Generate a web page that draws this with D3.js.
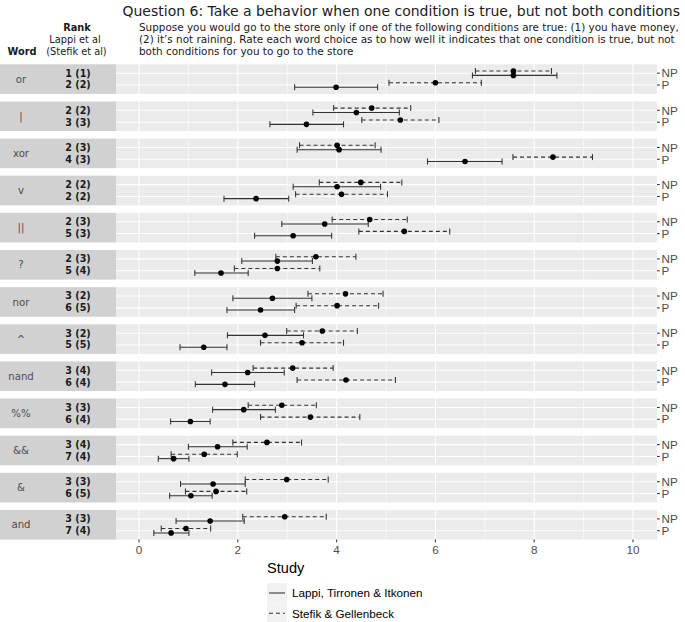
<!DOCTYPE html>
<html><head><meta charset="utf-8">
<script src="https://cdn.jsdelivr.net/npm/d3@7"></script>
<style>body{margin:0;background:#fff}</style>
</head><body><svg id="c" width="685" height="622"></svg>
<script>
// ---- data ----
const titleText = "Question 6: Take a behavior when one condition is true, but not both conditions";
const questionLines = [
  "Suppose you would go to the store only if one of the following conditions are true: (1) you have money,",
  "(2) it\u2019s not raining. Rate each word choice as to how well it indicates that one condition is true, but not",
  "both conditions for you to go to the store"
];
const words = ["or","|","xor","v","||","?","nor","^","nand","%%","&&","&","and"];
const rankNP = ["1 (1)","2 (2)","2 (3)","2 (2)","2 (3)","2 (3)","3 (2)","3 (2)","3 (4)","3 (3)","3 (4)","3 (3)","3 (3)"];
const rankP  = ["2 (2)","3 (3)","4 (3)","2 (2)","5 (3)","5 (4)","6 (5)","5 (5)","6 (4)","6 (4)","7 (4)","6 (5)","7 (4)"];
const conditions = ["NP","P"];
const studies = ["Lappi, Tirronen & Itkonen","Stefik & Gellenbeck"];
const xTicks = [0,2,4,6,8,10];
// [low, mean, high] per word
const lappiNP = [[6.75,7.58,8.46],[3.52,4.40,5.27],[3.20,4.05,4.90],[3.12,4.01,4.89],[2.89,3.76,4.64],[2.08,2.80,3.51],[1.90,2.70,3.50],[1.79,2.55,3.33],[1.47,2.20,2.94],[1.49,2.12,2.76],[1.00,1.59,2.19],[0.84,1.50,2.15],[0.75,1.44,2.13]];
const lappiP  = [[3.15,3.99,4.83],[2.65,3.39,4.14],[5.84,6.60,7.35],[1.72,2.37,3.03],[2.34,3.12,3.90],[1.13,1.66,2.21],[1.78,2.46,3.15],[0.83,1.31,1.78],[1.14,1.74,2.34],[0.64,1.04,1.44],[0.39,0.70,1.01],[0.62,1.05,1.48],[0.30,0.65,1.01]];
const stefikNP= [[6.81,7.58,8.35],[3.94,4.71,5.50],[3.25,4.01,4.78],[3.65,4.49,5.32],[3.91,4.67,5.43],[2.77,3.58,4.39],[3.42,4.18,4.94],[2.99,3.71,4.42],[2.31,3.11,3.93],[2.21,2.89,3.59],[1.90,2.59,3.29],[2.15,2.99,3.83],[2.10,2.95,3.79]];
const stefikP = [[5.06,6.00,6.93],[4.51,5.29,6.07],[7.57,8.38,9.18],[3.17,4.10,5.03],[4.45,5.37,6.29],[1.93,2.80,3.66],[3.18,4.01,4.85],[2.46,3.30,4.14],[3.20,4.19,5.19],[2.46,3.47,4.47],[0.65,1.32,1.99],[0.94,1.56,2.18],[0.45,0.95,1.45]];

// ---- build records ----
const recs = [];
words.forEach((w,i)=>{
  recs.push({word:w,cond:"NP",study:studies[0],v:lappiNP[i]});
  recs.push({word:w,cond:"P", study:studies[0],v:lappiP[i]});
  recs.push({word:w,cond:"NP",study:studies[1],v:stefikNP[i]});
  recs.push({word:w,cond:"P", study:studies[1],v:stefikP[i]});
});

const svg = d3.select("#c");
const sans = "'Liberation Sans', Arial, sans-serif";
const dv = "'DejaVu Sans', Verdana, sans-serif";

const stripX0 = 0, panelX0 = 116, panelX1 = 657;
const x = d3.scaleLinear().domain([-0.466, 10.486]).range([panelX0, panelX1]);
const band = d3.scaleBand().domain(words).range([64.3, 539.6]).paddingInner(0.203);
const bh = band.bandwidth();
const yc = d3.scalePoint().domain(conditions).range([0, bh]).padding(0.75);
const dodge = d3.scalePoint().domain([studies[1], studies[0]]).range([-2.2, 2.2]);
const dash = d3.scaleOrdinal().domain(studies).range([null, "4,3"]);

function fitText(sel, target){
  const n = sel.node(); const fs = parseFloat(sel.attr("font-size"));
  const w = n.getComputedTextLength();
  sel.attr("font-size", fs*target/w);
}
const t = svg.append("text").attr("x",122.5).attr("y",15.5).attr("font-family",dv)
  .attr("font-size",14).attr("fill","#1a1a1a").text(titleText);
fitText(t, 558);

const qY = [31, 43.2, 55.2];
const q0 = svg.append("text").attr("x",139).attr("y",qY[0]).attr("font-family",dv)
  .attr("font-size",9.5).attr("fill","#1a1a1a").text(questionLines[0]);
fitText(q0, 541);
const qfs = q0.attr("font-size");
questionLines.slice(1).forEach((l,i)=>{
  svg.append("text").attr("x",139).attr("y",qY[i+1]).attr("font-family",dv)
   .attr("font-size",qfs).attr("fill","#1a1a1a").text(l);
});

// header
svg.append("text").attr("x",77).attr("y",qY[0]).attr("text-anchor","middle").attr("font-family",dv)
  .attr("font-weight","bold").attr("font-size",9.8).attr("fill","#1a1a1a").text("Rank");
svg.append("text").attr("x",75).attr("y",qY[1]).attr("text-anchor","middle").attr("font-family",dv)
  .attr("font-size",9.8).attr("fill","#1a1a1a").text("Lappi et al");
svg.append("text").attr("x",76.5).attr("y",qY[2]).attr("text-anchor","middle").attr("font-family",dv)
  .attr("font-size",9.8).attr("fill","#1a1a1a").text("(Stefik et al)");
svg.append("text").attr("x",22).attr("y",qY[2]).attr("text-anchor","middle").attr("font-family",dv)
  .attr("font-weight","bold").attr("font-size",9.8).attr("fill","#1a1a1a").text("Word");

// panels
const panels = svg.append("g").selectAll("g").data(words).join("g")
  .attr("transform", d=>`translate(0,${band(d)})`);
panels.append("rect").attr("x",stripX0).attr("width",panelX0-stripX0).attr("height",bh).attr("fill","#D1D1D1");
panels.append("rect").attr("x",panelX0).attr("width",panelX1-panelX0).attr("height",bh).attr("fill","#EBEBEB");
panels.selectAll("line.minor").data([1,3,5,7,9]).join("line").attr("class","minor")
  .attr("x1",d=>x(d)).attr("x2",d=>x(d)).attr("y1",0).attr("y2",bh).attr("stroke","#fff").attr("stroke-width",0.55);
panels.selectAll("line.major").data(xTicks).join("line").attr("class","major")
  .attr("x1",d=>x(d)).attr("x2",d=>x(d)).attr("y1",0).attr("y2",bh).attr("stroke","#fff").attr("stroke-width",1.07);
panels.selectAll("line.hmaj").data(conditions).join("line").attr("class","hmaj")
  .attr("x1",panelX0).attr("x2",panelX1).attr("y1",d=>yc(d)).attr("y2",d=>yc(d)).attr("stroke","#fff").attr("stroke-width",1.07);
panels.selectAll("line.rt").data(conditions).join("line").attr("class","rt")
  .attr("x1",panelX1).attr("x2",panelX1+2.75).attr("y1",d=>yc(d)).attr("y2",d=>yc(d)).attr("stroke","#333").attr("stroke-width",1.07);
panels.selectAll("text.rl").data(conditions).join("text").attr("class","rl")
  .attr("x",panelX1+4.5).attr("y",d=>yc(d)).attr("dy","0.36em").attr("font-family",sans)
  .attr("font-size",11.7).attr("fill","#4D4D4D").text(d=>d);
panels.append("text").attr("x",21).attr("y",bh/2).attr("dy","0.36em").attr("text-anchor","middle")
  .attr("font-family",dv).attr("font-size",10.2).attr("fill","#4D4D4D").text(d=>d);
panels.append("text").attr("x",78).attr("y",yc("NP")).attr("dy","0.36em").attr("text-anchor","middle")
  .attr("font-family",dv).attr("font-weight","bold").attr("font-size",9.6).attr("fill","#1a1a1a")
  .text(d=>rankNP[words.indexOf(d)]);
panels.append("text").attr("x",78).attr("y",yc("P")).attr("dy","0.36em").attr("text-anchor","middle")
  .attr("font-family",dv).attr("font-weight","bold").attr("font-size",9.6).attr("fill","#1a1a1a")
  .text(d=>rankP[words.indexOf(d)]);

// error bars
const g = svg.append("g");
const yOf = r => band(r.word) + yc(r.cond) + dodge(r.study);
const cap = 3;
const eb = g.selectAll("g.eb").data(recs).join("g").attr("class","eb");
eb.append("line").attr("x1",r=>x(r.v[0])).attr("x2",r=>x(r.v[2])).attr("y1",yOf).attr("y2",yOf)
  .attr("stroke","#333").attr("stroke-width",1.07).attr("stroke-dasharray",r=>dash(r.study));
eb.append("line").attr("x1",r=>x(r.v[0])).attr("x2",r=>x(r.v[0])).attr("y1",r=>yOf(r)-cap).attr("y2",r=>yOf(r)+cap)
  .attr("stroke","#333").attr("stroke-width",1.07);
eb.append("line").attr("x1",r=>x(r.v[2])).attr("x2",r=>x(r.v[2])).attr("y1",r=>yOf(r)-cap).attr("y2",r=>yOf(r)+cap)
  .attr("stroke","#333").attr("stroke-width",1.07);
g.selectAll("circle").data(recs).join("circle").attr("cx",r=>x(r.v[1])).attr("cy",yOf).attr("r",2.8).attr("fill","#000");

// bottom axis
const by = band(words[words.length-1]) + bh;
const ax = svg.append("g").attr("transform",`translate(0,${by})`);
ax.selectAll("line").data(xTicks).join("line").attr("x1",d=>x(d)).attr("x2",d=>x(d)).attr("y1",0).attr("y2",2.75)
  .attr("stroke","#333").attr("stroke-width",1.07);
ax.selectAll("text").data(xTicks).join("text").attr("x",d=>x(d)).attr("y",14.6).attr("text-anchor","middle")
  .attr("font-family",sans).attr("font-size",11.7).attr("fill","#4D4D4D").text(d=>d);

// legend
svg.append("text").attr("x",267).attr("y",573).attr("font-family",sans).attr("font-size",14.6).attr("fill","#000").text("Study");
const lg = svg.append("g").selectAll("g").data(studies).join("g")
  .attr("transform",(d,i)=>`translate(267,${583+i*20.3})`);
lg.append("rect").attr("width",20).attr("height",20).attr("fill","#F2F2F2");
lg.append("line").attr("x1",2).attr("x2",18).attr("y1",10).attr("y2",10).attr("stroke","#333").attr("stroke-width",1.07)
  .attr("stroke-dasharray",d=>dash(d));
lg.append("text").attr("x",25).attr("y",10).attr("dy","0.36em").attr("font-family",sans).attr("font-size",11.7)
  .attr("fill","#000").text(d=>d);
</script></body></html>
